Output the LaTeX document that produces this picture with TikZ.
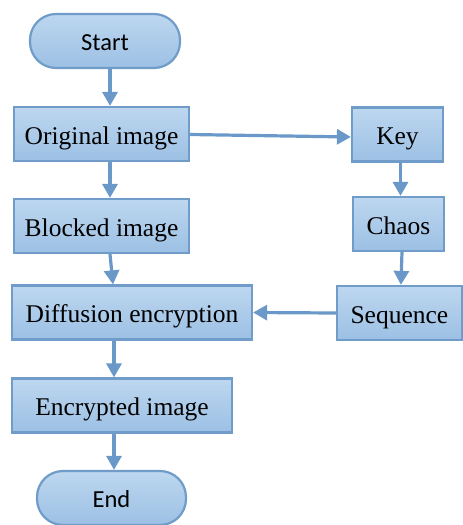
\documentclass[tikz,border=0pt]{standalone}
\usepackage{fontspec}
\setmainfont{Liberation Serif}
\newfontfamily\termfont{Carlito}
\usetikzlibrary{arrows.meta,positioning}

\definecolor{boxtop}{HTML}{BDD7EF}
\definecolor{boxbot}{HTML}{9CC0E4}
\definecolor{boxline}{HTML}{6F9CC8}
\definecolor{flowline}{HTML}{6A98C8}

\begin{document}
\begin{tikzpicture}[x=1pt,y=-1pt,
    block/.style={draw=boxline,line width=2.2pt,top color=boxtop,bottom color=boxbot,
        minimum height=54pt,inner sep=0pt,text height=21pt,text depth=1pt,
        font=\fontsize{25.5}{28}\selectfont},
    terminal/.style={block,rounded corners=26pt,text height=20pt,
        font=\termfont\fontsize{24.5}{28}\selectfont},
    flow/.style={draw=flowline,line width=3.2pt,-{Triangle[width=15pt,length=14pt]}}]
    \useasboundingbox (0,0) rectangle (463,525);
    \node[terminal,minimum width=150pt] (start) at (105,41) {Start};
    \node[block,minimum width=175pt] (orig) at (101.5,134) {Original image};
    \node[block,minimum width=175pt] (blocked) at (101.5,226) {Blocked image};
    \node[block,minimum width=240pt] (diff) at (132,312.5) {Diffusion encryption};
    \node[block,minimum width=220pt] (enc) at (122,405.5) {Encrypted image};
    \node[terminal,minimum width=149pt] (end) at (111.5,498) {End};
    \node[block,minimum width=91pt] (key) at (397.5,134.5) {Key};
    \node[block,minimum width=91pt] (chaos) at (398.5,224) {Chaos};
    \node[block,minimum width=125pt,anchor=east] (seq) at (463,313) {Sequence};

    \path
    ([xshift=5pt]start.south) edge[flow] ([xshift=8.5pt]orig.north)
    ([xshift=8.5pt]orig.south) edge[flow] ([xshift=8.5pt]blocked.north)
    ([xshift=8.5pt]blocked.south) edge[flow] ([xshift=-19pt]diff.north)
    ([xshift=-18pt]diff.south) edge[flow] ([xshift=-8pt]enc.north)
    ([xshift=-8pt]enc.south) edge[flow] ([xshift=2.5pt]end.north)
    ([yshift=-0.5pt]orig.east) edge[flow] ([yshift=-2.5pt]key.west)
    ([xshift=3pt]key.south) edge[flow] ([xshift=2pt]chaos.north)
    ([xshift=3.5pt]chaos.south) edge[flow] ([xshift=1.5pt]seq.north)
    (seq.west) edge[flow] (diff.east);
\end{tikzpicture}
\end{document}
